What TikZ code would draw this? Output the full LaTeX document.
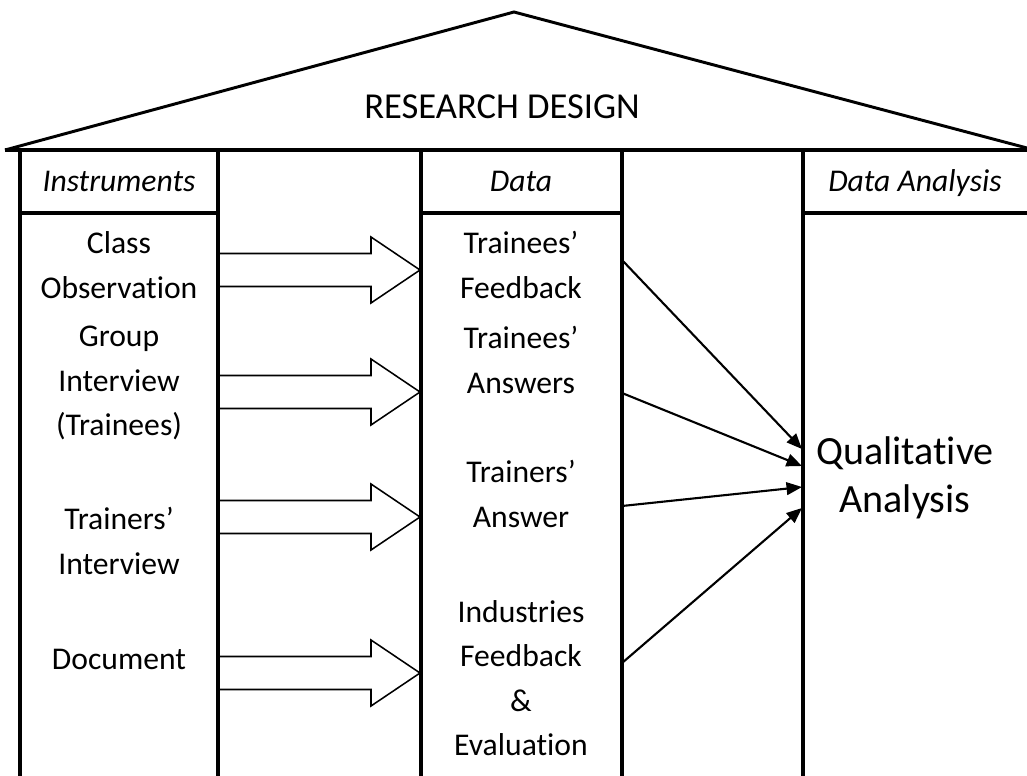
\documentclass[tikz,border=0pt]{standalone}
\usepackage{fontspec}
\setmainfont{Carlito}[Ligatures={TeX,NoCommon}]
\usetikzlibrary{arrows.meta,positioning}

\begin{document}
\begin{tikzpicture}[x=0.025cm, y=-0.025cm,
    wall/.style={line width=2.8pt},
    roof/.style={line width=2.1pt, line join=miter},
    txt/.style={align=center, font=\fontsize{22.5}{31.5}\selectfont},
    head/.style={anchor=base, font=\fontsize{22.5}{31.5}\selectfont\itshape},
    fat/.style={line width=1.1pt, line join=miter, fill=white},
    thin/.style={line width=1.5pt, -{Triangle[length=11pt, width=9pt]}}]

\useasboundingbox (0,0) rectangle (1027,776);

% block arrow: start point, tip point
\newcommand{\fatarrow}[2]{%
  \draw[fat] (#1) ++(0,-16.5) -- ++(151,0) -- ++(0,-16.5) -- (#2)
    -- ++(-49,33) -- ++(0,-16.5) -- ++(-151,0);
}

% roof
\draw[roof] (5,150) -- (514,12) -- (1027,148);
\node[font=\fontsize{26}{31}\selectfont] (design) at (502,107) {RESEARCH DESIGN};

% columns
\draw[wall] (5,150) -- (1027,150);
\foreach \c in {20, 218, 421, 622, 803}
  \draw[wall] (\c,150) -- (\c,776);
\draw[wall] (20,213) -- (218,213);
\draw[wall] (421,213) -- (622,213);
\draw[wall] (803,213) -- (1027,213);

\node[head] (instr) at (119,191) {Instruments};
\node[head] (data) at (521,191) {Data};
\node[head] (anal) at (915,191) {Data Analysis};

% instruments
\node[txt] (obs) at (119,265) {Class\\Observation};
\node[txt] (grp) at (119,383) {Group\\Interview\\(Trainees)};
\node[txt] (trn) at (119,541) {Trainers'\\Interview};
\node[txt] (doc) at (119,659) {Document};

% data
\node[txt] (fdbk) at (521,265) {Trainees'\\Feedback};
\node[txt] (answ) at (521,360) {Trainees'\\Answers};
\node[txt] (tansw) at (521,494) {Trainers'\\Answer};
\node[txt] (ind) at (521,678) {Industries\\Feedback\\\&\\Evaluation};

% analysis
\node[align=center, font=\fontsize{28.5}{34}\selectfont] (qual) at (905,478) {Qualitative\\Analysis};

% edge points
\coordinate (i1) at (220,270); \coordinate (d1) at (420,270);
\coordinate (i2) at (220,392); \coordinate (d2) at (420,392);
\coordinate (i3) at (220,517); \coordinate (d3) at (420,517);
\coordinate (i4) at (220,673); \coordinate (d4) at (420,673);

\fatarrow{i1}{d1}
\fatarrow{i2}{d2}
\fatarrow{i3}{d3}
\fatarrow{i4}{d4}

\coordinate (o1) at (622,260); \coordinate (q1) at (802,449);
\coordinate (o2) at (622,393); \coordinate (q2) at (802,466);
\coordinate (o3) at (622,506); \coordinate (q3) at (802,487);
\coordinate (o4) at (622,663); \coordinate (q4) at (802,508);

\draw[thin] (o1) -- (q1);
\draw[thin] (o2) -- (q2);
\draw[thin] (o3) -- (q3);
\draw[thin] (o4) -- (q4);

\end{tikzpicture}
\end{document}
